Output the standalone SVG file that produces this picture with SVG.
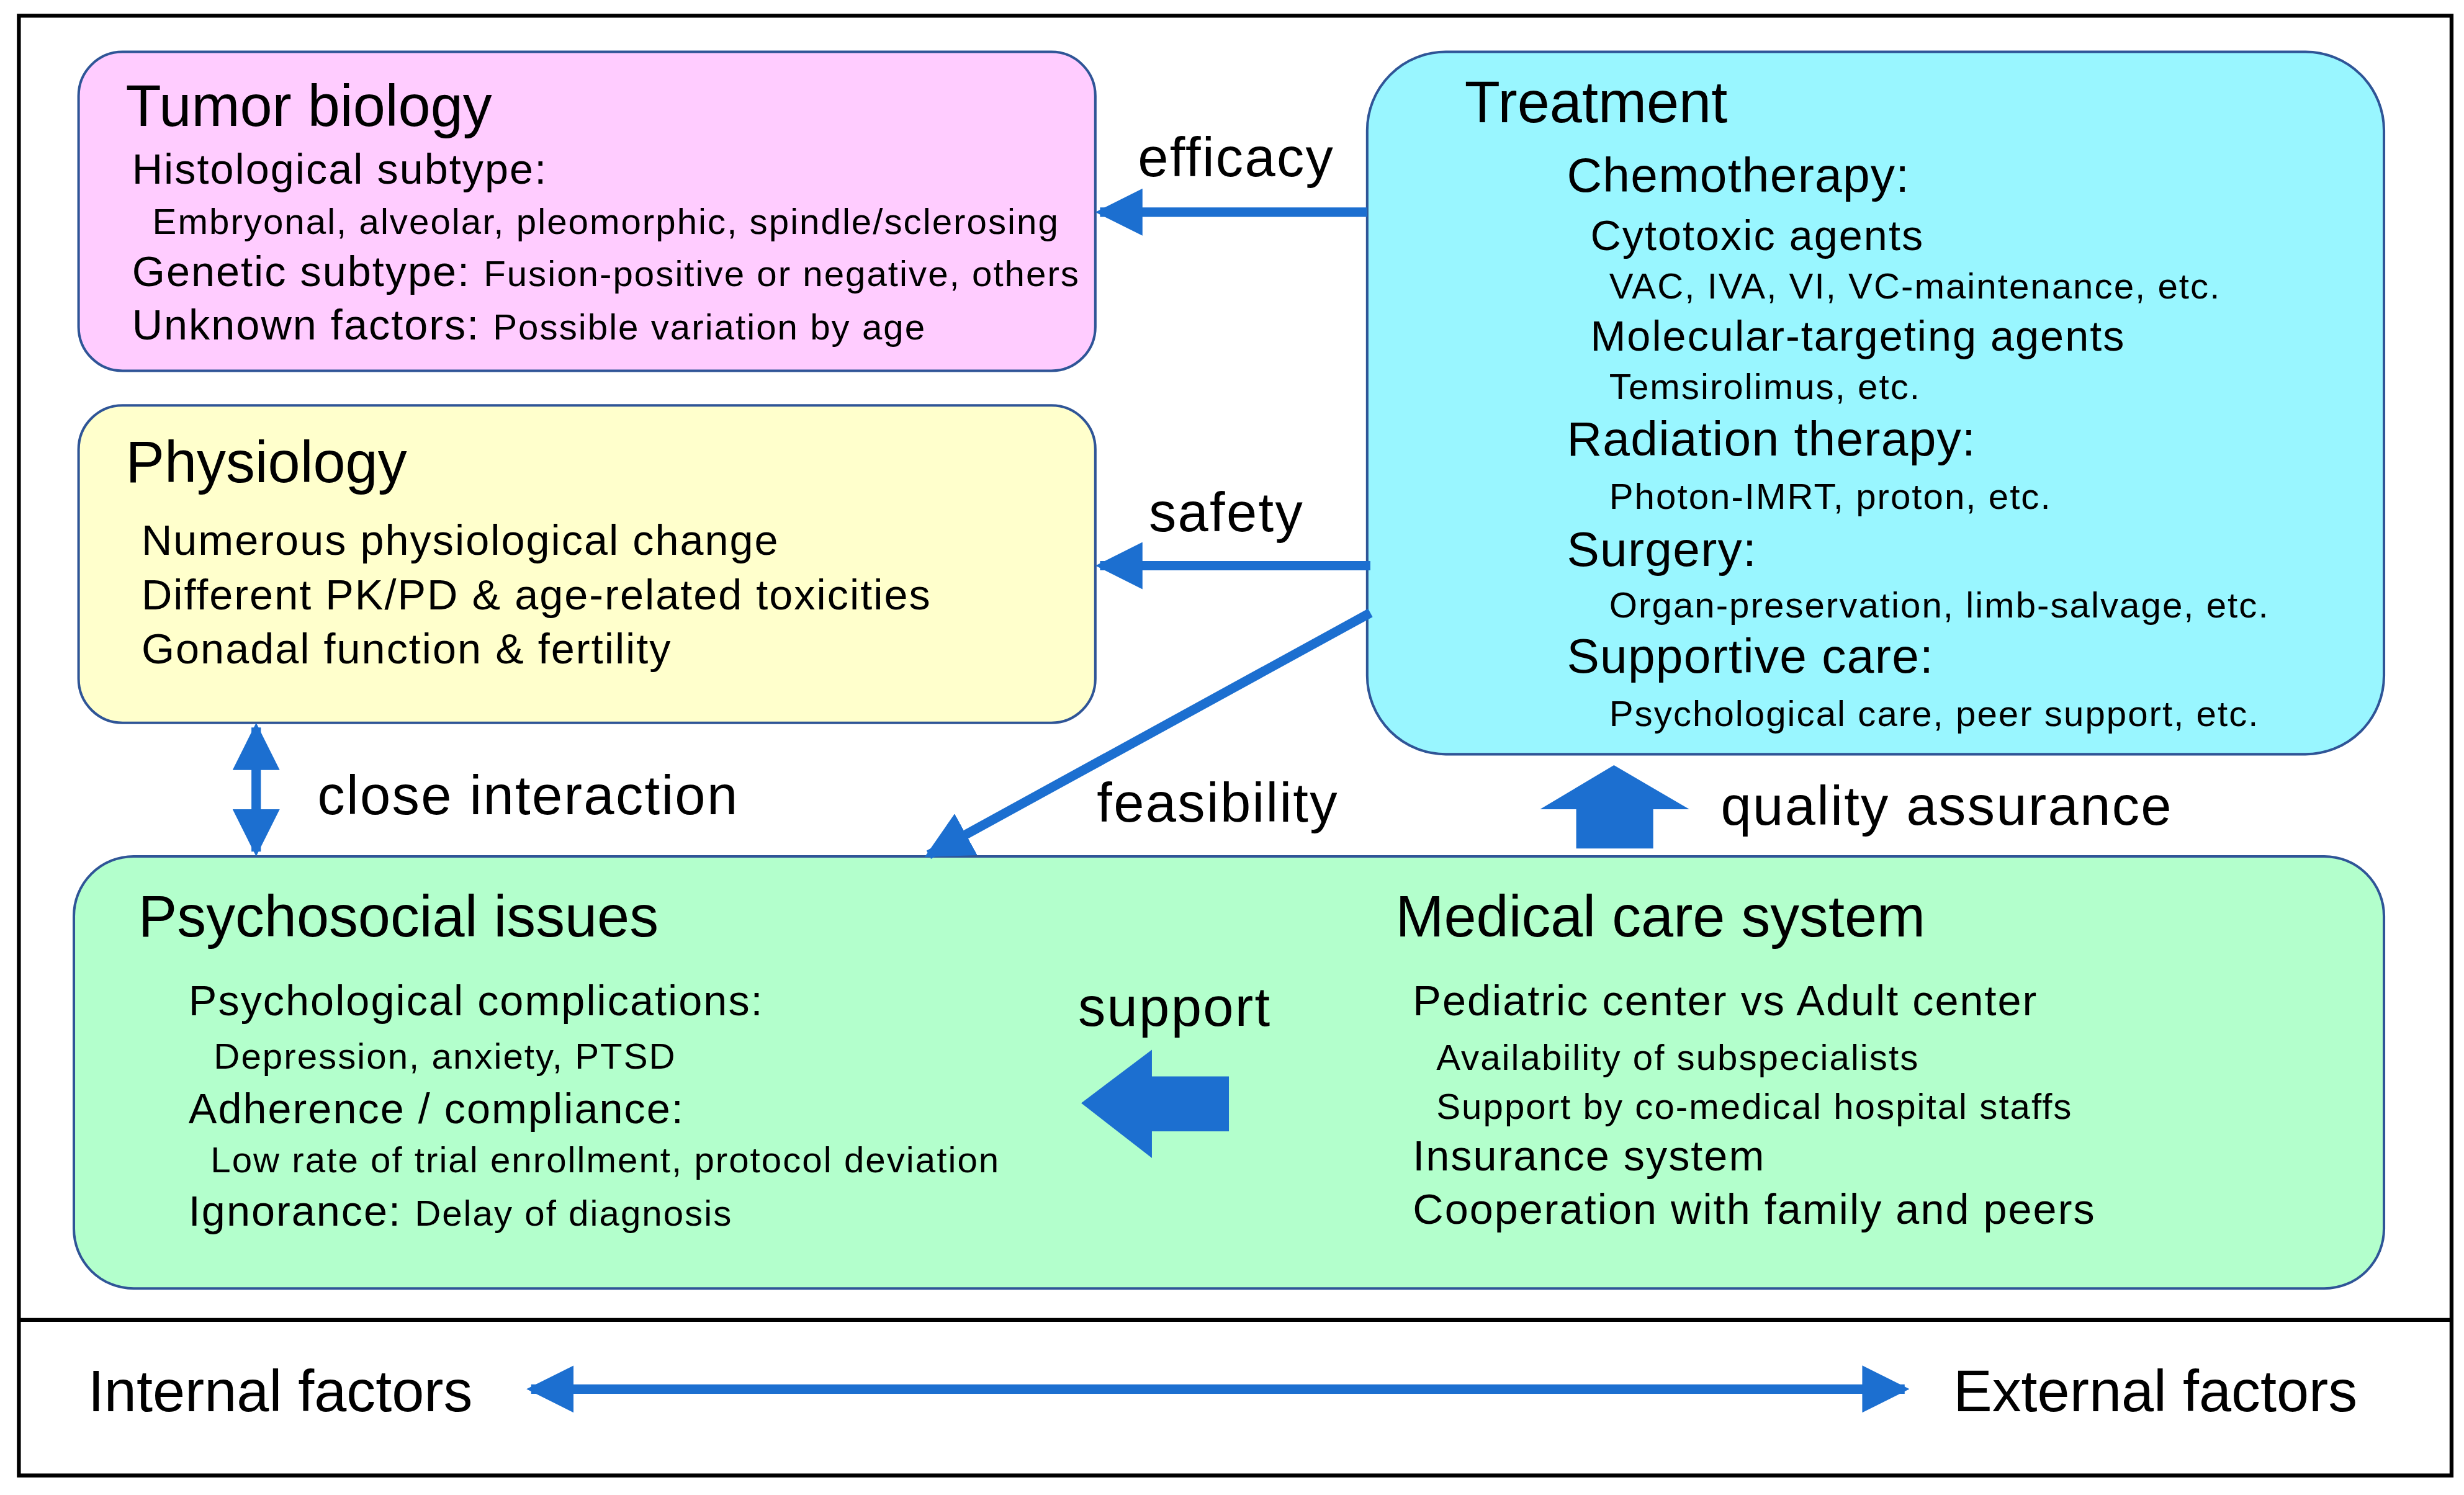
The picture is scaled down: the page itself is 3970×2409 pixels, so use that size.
<svg xmlns="http://www.w3.org/2000/svg" width="3970" height="2409" viewBox="0 0 3970 2409">
<defs>
<style>
text{font-family:"Liberation Sans",Arial,sans-serif;fill:#000}
.t{font-size:37px}.h{font-size:31px;letter-spacing:0.5px}.m{font-size:27px;letter-spacing:0.8px}.s{font-size:23px;letter-spacing:0.8px}.a{font-size:35px;letter-spacing:0.9px}
.box{stroke:#2f5597;stroke-width:1.6}
.ar{stroke:#1c6fd0;stroke-width:6;fill:none}
</style>
<marker id="ah" viewBox="0 0 10 10" refX="9" refY="5" markerWidth="5" markerHeight="5" orient="auto-start-reverse" markerUnits="strokeWidth"><path d="M0,0L10,5L0,10z" fill="#1c6fd0"/></marker>
</defs>
<rect width="3970" height="2409" fill="#fff"/>
<g transform="scale(2.532)">
<g id="frame"><rect x="12" y="10" width="1548" height="929" fill="none" stroke="#000" stroke-width="2.5"/><line x1="12" y1="840" x2="1560" y2="840" stroke="#000" stroke-width="2.5"/></g>
<g id="tumor"><rect class="box" x="50" y="33" width="647" height="203" rx="28" fill="#ffccff"/>
<text class="t" x="80" y="80">Tumor biology</text>
<text class="m" x="84" y="117">Histological subtype:</text>
<text class="s" x="97" y="149">Embryonal, alveolar, pleomorphic, spindle/sclerosing</text>
<text class="m" x="84" y="182">Genetic subtype: <tspan class="s">Fusion-positive or negative, others</tspan></text>
<text class="m" x="84" y="216">Unknown factors: <tspan class="s">Possible variation by age</tspan></text></g>
<g id="physiology"><rect class="box" x="50" y="258" width="647" height="202" rx="28" fill="#ffffcc"/>
<text class="t" x="80" y="307">Physiology</text>
<text class="m" x="90" y="353">Numerous physiological change</text>
<text class="m" x="90" y="388">Different PK/PD &amp; age-related toxicities</text>
<text class="m" x="90" y="422">Gonadal function &amp; fertility</text></g>
<g id="treatment"><rect class="box" x="870" y="33" width="647" height="447" rx="50" fill="#99f6ff"/>
<text class="t" x="932" y="78">Treatment</text>
<text class="h" x="997" y="122">Chemotherapy:</text>
<text class="m" x="1012" y="159">Cytotoxic agents</text>
<text class="s" x="1024" y="190">VAC, IVA, VI, VC-maintenance, etc.</text>
<text class="m" x="1012" y="223">Molecular-targeting agents</text>
<text class="s" x="1024" y="254">Temsirolimus, etc.</text>
<text class="h" x="997" y="290">Radiation therapy:</text>
<text class="s" x="1024" y="324">Photon-IMRT, proton, etc.</text>
<text class="h" x="997" y="360">Surgery:</text>
<text class="s" x="1024" y="393">Organ-preservation, limb-salvage, etc.</text>
<text class="h" x="997" y="428">Supportive care:</text>
<text class="s" x="1024" y="462">Psychological care, peer support, etc.</text></g>
<g id="bottom"><rect class="box" x="47" y="545" width="1470" height="275" rx="38" fill="#b3ffcc"/>
<text class="t" x="88" y="596">Psychosocial issues</text>
<text class="m" x="120" y="646">Psychological complications:</text>
<text class="s" x="136" y="680">Depression, anxiety, PTSD</text>
<text class="m" x="120" y="715">Adherence / compliance:</text>
<text class="s" x="134" y="746">Low rate of trial enrollment, protocol deviation</text>
<text class="m" x="120" y="780">Ignorance: <tspan class="s">Delay of diagnosis</tspan></text>
<text class="t" x="888" y="596">Medical care system</text>
<text class="m" x="899" y="646">Pediatric center vs Adult center</text>
<text class="s" x="914" y="681">Availability of subspecialists</text>
<text class="s" x="914" y="712">Support by co-medical hospital staffs</text>
<text class="m" x="899" y="745">Insurance system</text>
<text class="m" x="899" y="779">Cooperation with family and peers</text></g>
<g id="connectors">
<line class="ar" x1="870" y1="135" x2="700" y2="135" marker-end="url(#ah)"/>
<line class="ar" x1="872" y1="360" x2="700" y2="360" marker-end="url(#ah)"/>
<line class="ar" x1="872" y1="390" x2="591" y2="544" marker-end="url(#ah)"/>
<line class="ar" x1="163" y1="463" x2="163" y2="542" marker-start="url(#ah)" marker-end="url(#ah)"/>
<line class="ar" x1="338" y1="884" x2="1212" y2="884" stroke-width="8" marker-start="url(#ah)" marker-end="url(#ah)"/>
<path d="M980,515L1027,487L1075,515L1052,515L1052,540L1003,540L1003,515z" fill="#1c6fd0"/>
<path d="M688,702L733,668L733,685L782,685L782,720L733,720L733,737z" fill="#1c6fd0"/>
</g>
<g id="labels">
<text class="a" x="724" y="112">efficacy</text>
<text class="a" x="731" y="338">safety</text>
<text class="a" x="202" y="518">close interaction</text>
<text class="a" x="698" y="523">feasibility</text>
<text class="a" x="1095" y="525">quality assurance</text>
<text class="a" x="686" y="653">support</text>
<text class="t" x="56" y="898">Internal factors</text>
<text class="t" x="1243" y="898">External factors</text>
</g>
</g>
</svg>
